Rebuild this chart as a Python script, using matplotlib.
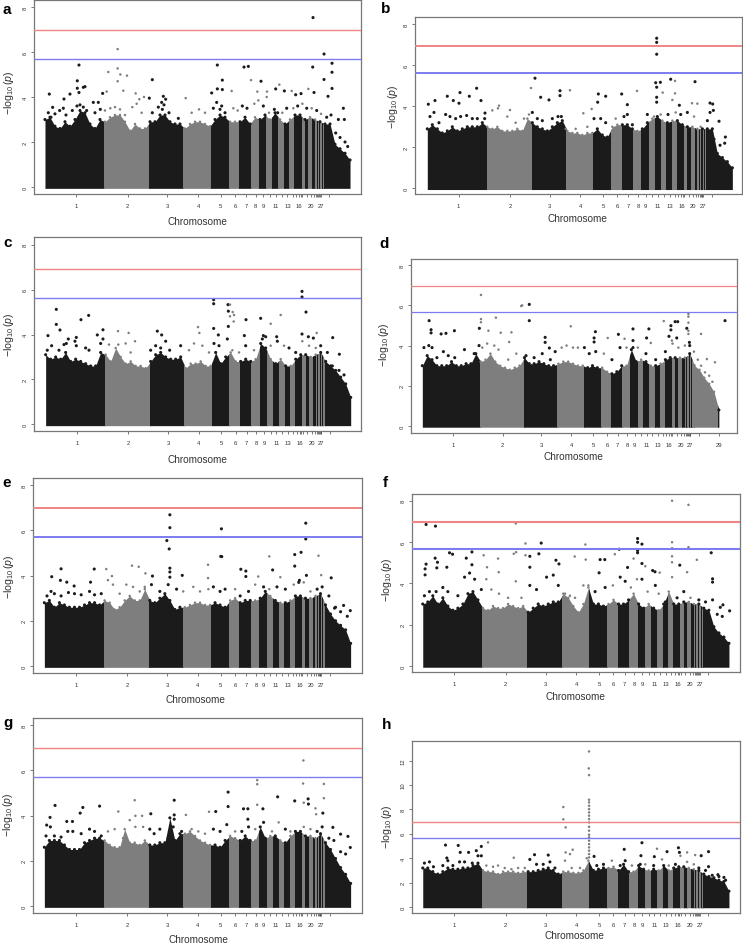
import numpy as np
import matplotlib
matplotlib.use('Agg')
import matplotlib.pyplot as plt
from matplotlib.patches import Rectangle

plt.rcParams['font.family'] = ['Liberation Sans', 'DejaVu Sans']
plt.rcParams['mathtext.fontset'] = 'custom'
plt.rcParams['mathtext.rm'] = 'Liberation Sans'
plt.rcParams['mathtext.it'] = 'Liberation Sans:italic'

# chromosome lengths along the x axis
chr_len = [178, 135, 102, 83, 53, 32, 34, 25, 22, 18, 18, 17, 16, 15, 22, 10, 10, 12, 8, 5,
           3, 4, 4, 4, 3, 4, 78]
chr_len_d = chr_len[:-1] + [1, 74, 9]

tick_pos = [94, 248, 367, 459, 527, 570, 603, 632, 655, 675, 692, 710, 727, 743, 753, 762,
            767, 771, 785, 798, 807, 813, 817, 820, 823, 825, 827, 853]
tick_lab = ['1', '2', '3', '4', '5', '6', '7', '8', '9', '', '11', '', '13', '', '', '16',
            '', '', '', '20', '', '', '', '', '', '', '27', '']

step = 15
grid = np.arange(62) * step

# height of the solid mass, read every 15 units
a_top = [3.0, 3.1, 2.7, 2.6, 2.9, 2.7, 3.0, 3.4, 3.3, 2.8, 2.6, 3.0,
         2.9, 3.1, 3.2, 3.2, 2.9, 2.5, 2.8, 2.6, 2.6,
         2.9, 2.9, 3.2, 3.2, 2.9, 2.8, 2.8,
         2.6, 2.8, 2.9, 2.9, 2.8, 2.7,
         3.0, 3.2, 3.1, 2.9, 2.9, 2.9, 3.1, 2.8, 3.1, 3.0, 3.2, 3.0, 3.3, 3.0, 2.8, 3.0, 3.2, 3.2,
         3.0, 3.1, 3.0, 2.9, 2.8, 2.8, 1.9, 1.7, 1.5, 1.2]
b_top = [2.9, 3.1, 2.9, 2.7, 2.8, 3.0, 2.8, 2.9, 3.0, 3.0, 3.0, 3.2,
         3.0, 2.9, 3.0, 2.8, 2.8, 2.8, 2.9, 2.8, 3.4,
         3.2, 3.0, 2.9, 2.8, 3.0, 3.2, 3.3,
         2.8, 2.7, 2.7, 2.6, 2.7, 2.7,
         2.9, 2.6, 2.5, 3.0, 3.1, 3.1, 3.1, 2.9, 2.8, 2.9, 3.2, 3.4, 3.5, 3.3, 3.2, 3.3, 3.3, 3.1,
         3.0, 3.0, 2.9, 2.9, 2.9, 2.9, 1.7, 1.5, 1.3, 1.0]
c_top = [3.1, 2.9, 3.0, 2.9, 3.2, 2.8, 2.9, 2.8, 2.7, 2.6, 2.6, 3.2,
         3.1, 2.8, 3.4, 3.0, 2.7, 2.8, 2.6, 2.6, 2.5,
         2.8, 3.1, 3.2, 3.0, 2.9, 2.9, 3.0,
         2.5, 2.7, 2.7, 2.8, 2.6, 2.6,
         3.2, 2.7, 3.0, 3.2, 2.8, 2.8, 2.9, 2.8, 2.9, 3.6, 3.4, 2.9, 2.7, 2.9, 2.6, 2.6, 2.9, 3.1,
         3.1, 3.0, 3.1, 3.2, 2.8, 2.6, 2.4, 2.1, 1.8, 1.2]
d_top = [3.0, 3.5, 3.3, 3.0, 3.0, 3.0, 3.2, 3.0, 3.0, 3.1, 3.1, 3.6,
         3.2, 3.3, 3.6, 3.2, 3.0, 2.9, 2.8, 2.9, 3.0,
         3.4, 3.1, 3.1, 3.2, 3.1, 3.0, 3.0,
         3.1, 3.2, 3.2, 3.1, 3.0, 3.0,
         2.9, 3.0, 2.9, 2.9, 2.7, 2.6, 2.7, 3.0, 3.0, 3.8, 3.2, 3.3, 3.2, 3.0, 3.0, 3.1, 3.3, 3.4,
         3.4, 3.4, 3.4, 3.6, 3.0, 2.8, 2.4, 2.1, 1.7, 0.8]
e_top = [2.8, 2.9, 2.6, 2.8, 2.7, 2.6, 2.6, 2.6, 2.7, 2.8, 2.8, 2.7,
         2.9, 2.8, 2.5, 2.6, 2.9, 3.1, 2.9, 2.9, 3.4,
         2.9, 2.8, 3.0, 3.2, 2.9, 2.5, 2.6,
         2.6, 2.7, 2.8, 2.8, 2.7, 2.7,
         2.8, 2.7, 2.6, 2.9, 3.0, 2.8, 2.9, 2.9, 2.9, 3.0, 3.3, 3.1, 2.9, 2.8, 2.8, 2.9, 3.1, 3.1,
         3.0, 3.0, 3.1, 3.2, 2.7, 2.3, 2.0, 1.8, 1.6, 1.0]
f_top = [3.0, 3.1, 3.4, 3.0, 3.3, 2.9, 2.7, 2.8, 3.0, 3.5, 3.6, 3.2,
         2.8, 2.7, 2.9, 2.8, 2.8, 3.0, 2.9, 2.8, 2.9,
         2.6, 2.8, 3.0, 2.9, 3.0, 3.1, 3.1,
         3.5, 3.3, 2.9, 2.6, 3.0, 3.8,
         3.0, 3.0, 2.9, 3.0, 3.2, 3.0, 3.0, 3.2, 3.5, 3.0, 2.8, 3.0, 2.8, 2.7, 3.0, 3.6, 3.0, 3.0,
         3.1, 3.1, 3.0, 3.0, 2.8, 2.7, 1.9, 1.6, 1.4, 1.1]
g_top = [2.6, 2.9, 2.9, 2.9, 2.7, 2.5, 2.5, 2.5, 2.8, 2.9, 3.0, 3.0,
         2.9, 2.7, 2.6, 2.6, 3.4, 2.8, 2.8, 2.7, 2.9,
         2.7, 2.7, 2.8, 2.8, 3.9, 2.9, 3.2,
         3.2, 3.3, 3.1, 2.9, 2.8, 2.7,
         2.7, 2.6, 2.9, 3.1, 3.0, 2.9, 3.1, 2.9, 2.9, 3.5, 3.0, 3.1, 3.1, 2.9, 2.8, 3.1, 3.3, 3.3,
         3.1, 3.1, 3.0, 3.2, 2.8, 2.5, 2.1, 1.7, 1.4, 1.0]
h_top = [3.2, 3.2, 2.9, 2.7, 2.9, 3.2, 3.1, 3.1, 3.2, 3.2, 3.4, 3.6,
         3.0, 2.9, 2.9, 2.7, 2.9, 2.9, 2.9, 2.8, 2.9,
         2.9, 2.9, 3.0, 3.1, 3.2, 3.0, 2.7,
         2.9, 2.9, 2.8, 2.8, 3.0, 3.8,
         3.0, 3.1, 3.2, 3.2, 3.3, 3.0, 3.5, 2.9, 2.9, 3.4, 3.1, 3.0, 3.1, 3.0, 3.4, 3.0, 3.2, 3.3,
         3.3, 3.2, 3.1, 3.0, 2.7, 2.5, 2.4, 2.2, 2.1, 1.3]

# single SNPs standing clear of the mass
a_pts = [(13, 4.13), (23, 3.54), (57, 3.91), (75, 4.13), (97, 4.72), (102, 5.42), (97, 4.39), (102, 4.2),
         (115, 4.43), (120, 4.46), (145, 3.76), (160, 3.76), (173, 4.16), (190, 5.11), (218, 6.13), (218, 5.27),
         (226, 5.0), (246, 4.95), (218, 4.7), (235, 4.28), (185, 4.24), (272, 4.16), (283, 3.9), (297, 4.0),
         (313, 3.95), (322, 4.77), (355, 4.03), (350, 3.76), (422, 3.95), (357, 3.65), (500, 4.18), (517, 5.42),
         (532, 4.75), (517, 4.36), (532, 4.33), (560, 4.27), (597, 5.33), (610, 5.36), (618, 4.75), (648, 4.7),
         (666, 4.24), (637, 4.24), (665, 4.0), (692, 4.36), (703, 4.55), (718, 4.27), (740, 4.27), (752, 4.1),
         (768, 4.15), (790, 4.36), (807, 4.2), (803, 5.33), (804, 7.53), (837, 5.91), (861, 5.5), (861, 5.1),
         (837, 4.78), (861, 4.38), (849, 4.03), (895, 3.5), (898, 3.0), (880, 3.0), (515, 3.76), (530, 3.6)]
b_pts = [(3, 4.1), (23, 4.28), (60, 4.49), (78, 4.28), (98, 4.67), (126, 4.49), (148, 4.88), (161, 4.28),
         (95, 4.15), (173, 3.67), (215, 4.03), (248, 3.82), (311, 4.89), (323, 5.37), (340, 4.44), (365, 4.31),
         (398, 4.76), (398, 4.52), (428, 4.78), (468, 3.66), (493, 3.87), (513, 4.6), (535, 4.49), (511, 4.2),
         (583, 4.6), (600, 4.08), (629, 4.75), (688, 7.32), (688, 7.12), (688, 6.54), (685, 5.15), (699, 5.17),
         (688, 4.93), (706, 4.67), (688, 4.44), (688, 4.2), (730, 5.32), (743, 5.24), (743, 4.63), (735, 4.31),
         (803, 5.2), (756, 4.05), (794, 4.15), (810, 4.13), (848, 4.16), (856, 4.11), (848, 3.7), (875, 3.27),
         (894, 2.5), (858, 3.8)]
c_pts = [(7, 3.95), (32, 5.12), (32, 4.45), (43, 4.2), (68, 3.8), (92, 3.87), (106, 4.66), (129, 4.85),
         (155, 3.98), (172, 4.21), (217, 4.15), (249, 4.07), (335, 4.15), (348, 3.98), (457, 4.33), (461, 4.07),
         (504, 5.55), (504, 5.37), (504, 4.27), (547, 5.33), (553, 5.33), (548, 5.04), (553, 4.81), (561, 5.0),
         (565, 4.87), (564, 4.58), (548, 4.36), (601, 4.66), (645, 4.72), (675, 4.48), (705, 4.87), (769, 5.92),
         (769, 5.67), (781, 5.0), (769, 4.02), (803, 3.84), (813, 4.07), (861, 3.86), (881, 3.12), (596, 3.95),
         (518, 3.98), (653, 3.95), (693, 3.9), (788, 3.9)]
d_pts = [(21, 5.24), (27, 4.79), (27, 4.63), (58, 4.58), (73, 4.61), (99, 4.74), (181, 6.52), (181, 5.32),
         (181, 5.16), (176, 4.86), (227, 5.39), (204, 4.74), (242, 4.64), (275, 4.66), (305, 5.97), (308, 6.0),
         (330, 6.05), (330, 5.24), (268, 4.18), (379, 4.41), (379, 4.16), (392, 3.88), (458, 4.96), (534, 4.69),
         (530, 4.38), (530, 4.18), (572, 4.38), (605, 4.56), (624, 4.34), (650, 4.83), (650, 4.25), (699, 4.83),
         (692, 4.38), (705, 4.13), (745, 5.22), (767, 4.99), (767, 4.78), (780, 5.19), (788, 5.19), (821, 5.57),
         (821, 5.44), (821, 5.14), (821, 4.74), (821, 4.58), (816, 4.86), (860, 4.58), (934, 5.24), (903, 3.17),
         (878, 3.33), (872, 2.67), (761, 4.46), (770, 4.25), (785, 4.38), (824, 4.16)]
e_pts = [(22, 3.95), (50, 4.3), (48, 3.79), (67, 3.71), (89, 3.54), (149, 4.29), (138, 3.71), (185, 4.29),
         (202, 3.98), (262, 4.44), (282, 4.39), (302, 4.1), (323, 3.98), (375, 6.69), (375, 6.12), (366, 5.55),
         (373, 5.18), (375, 4.33), (375, 4.16), (375, 3.93), (412, 4.01), (489, 4.48), (489, 3.89), (529, 6.07),
         (527, 4.85), (530, 4.84), (587, 4.28), (602, 4.2), (602, 3.96), (639, 3.96), (672, 4.85), (682, 4.25),
         (705, 3.93), (748, 4.93), (748, 4.42), (767, 5.03), (781, 6.32), (781, 5.62), (819, 4.88), (827, 4.02),
         (857, 3.9), (783, 4.01), (762, 3.79), (894, 2.68), (914, 2.45), (867, 2.56)]
f_pts = [(10, 6.85), (38, 6.77), (37, 5.22), (44, 5.02), (42, 4.75), (7, 4.7), (7, 4.41), (10, 4.93),
         (72, 4.78), (80, 5.48), (89, 5.41), (130, 5.22), (147, 5.52), (147, 4.9), (182, 5.36), (225, 5.2),
         (192, 4.78), (227, 4.54), (278, 6.9), (307, 5.93), (279, 5.51), (272, 5.43), (307, 5.36), (320, 5.31),
         (320, 4.78), (347, 5.43), (354, 5.95), (398, 5.12), (407, 4.94), (454, 5.3), (486, 5.88), (487, 5.15),
         (530, 5.15), (544, 5.15), (527, 4.51), (587, 5.65), (574, 5.41), (612, 4.77), (630, 5.2), (642, 6.17),
         (642, 5.99), (642, 5.59), (642, 5.48), (655, 5.9), (655, 4.96), (665, 4.83), (687, 4.62), (694, 4.56),
         (708, 4.52), (745, 8.0), (745, 5.99), (745, 5.7), (745, 5.31), (745, 5.02), (768, 4.88), (794, 7.8),
         (794, 5.75), (790, 4.54), (819, 5.14), (862, 5.48), (866, 4.22), (866, 4.06), (897, 2.96), (917, 2.67),
         (889, 2.84)]
g_pts = [(32, 4.45), (17, 3.92), (107, 4.11), (115, 4.36), (165, 4.42), (67, 3.74), (84, 3.74), (7, 3.58),
         (221, 4.18), (270, 4.68), (292, 3.99), (318, 4.08), (272, 3.99), (388, 4.68), (388, 4.03), (388, 3.84),
         (423, 4.03), (492, 4.17), (512, 4.18), (549, 5.04), (549, 4.4), (595, 4.3), (608, 4.3), (608, 3.84),
         (636, 5.57), (636, 5.39), (636, 4.48), (653, 4.3), (697, 4.83), (748, 4.65), (774, 6.44), (773, 5.42),
         (775, 4.57), (788, 4.74), (789, 4.51), (810, 4.32), (812, 4.06), (835, 5.4), (835, 4.77), (832, 4.11),
         (862, 3.48), (907, 3.08), (885, 3.18), (914, 2.59)]
h_pts = [(68, 5.08), (106, 5.05), (112, 4.48), (137, 4.48), (175, 4.97), (160, 4.62), (195, 5.3), (72, 4.02),
         (272, 4.04), (334, 4.29), (375, 4.26), (420, 8.2), (420, 7.19), (427, 6.53), (448, 4.7), (427, 4.48),
         (440, 4.34), (497, 12.76), (496, 11.37), (497, 10.82), (497, 8.8), (497, 8.58), (497, 8.3), (497, 8.03),
         (497, 7.76), (497, 7.49), (497, 7.21), (497, 6.94), (497, 6.58), (497, 6.26), (497, 5.93), (497, 5.71),
         (497, 5.44), (497, 5.16), (497, 4.89), (497, 4.62), (497, 4.34), (497, 4.07), (512, 4.15), (602, 4.73),
         (655, 5.27), (652, 4.21), (700, 4.78), (692, 4.13), (730, 4.54), (764, 4.86), (767, 4.48), (790, 4.48),
         (814, 4.26), (832, 4.21), (854, 4.54), (854, 3.31), (882, 2.65), (900, 2.43)]

# the looser band of SNPs just above the mass
a_more = [(10, 3.3), (18, 3.1), (30, 3.25), (44, 3.4), (55, 3.5), (63, 3.2), (82, 3.4), (96, 3.6), (105, 3.65),
          (115, 3.55), (125, 3.4), (150, 3.3), (166, 3.45), (180, 3.4), (196, 3.5), (210, 3.55), (225, 3.45),
          (240, 3.2), (262, 3.55), (275, 3.7), (290, 3.3), (322, 3.3), (340, 3.55), (352, 3.45), (362, 3.9),
          (372, 3.3), (400, 3.05), (440, 3.3), (462, 3.45), (480, 3.3), (505, 3.5), (525, 3.45), (540, 3.3),
          (565, 3.5), (578, 3.4), (592, 3.6), (606, 3.5), (628, 3.7), (640, 3.85), (655, 3.6), (672, 3.3),
          (688, 3.45), (698, 3.3), (712, 3.3), (725, 3.5), (745, 3.5), (758, 3.6), (772, 3.7), (785, 3.5),
          (800, 3.5), (815, 3.4), (828, 3.25), (845, 3.1), (858, 3.2), (872, 2.4), (885, 2.2), (900, 2.0), (908, 1.8)]
b_more = [(8, 3.5), (20, 3.7), (35, 3.2), (55, 3.6), (68, 3.5), (85, 3.4), (100, 3.5), (118, 3.55), (135, 3.4),
          (150, 3.4), (172, 3.4), (195, 3.8), (212, 3.9), (240, 3.5), (265, 3.2), (290, 3.4), (305, 3.6), (315, 3.7),
          (330, 3.4), (345, 3.3), (375, 3.4), (392, 3.5), (402, 3.5), (415, 2.9), (445, 2.9), (480, 3.0), (500, 3.4),
          (520, 3.4), (535, 3.2), (565, 3.4), (590, 3.5), (600, 3.6), (615, 3.1), (660, 3.6), (680, 3.5), (700, 3.6),
          (722, 3.6), (745, 3.7), (760, 3.6), (780, 3.7), (800, 3.5), (820, 3.0), (840, 3.3), (860, 2.4), (878, 2.1),
          (892, 2.2)]
c_more = [(5, 3.3), (18, 3.5), (40, 3.3), (55, 3.55), (62, 3.6), (88, 3.7), (92, 3.5), (120, 3.4), (130, 3.3),
          (165, 3.6), (172, 3.8), (190, 3.55), (218, 3.55), (240, 3.6), (255, 3.2), (268, 3.7), (315, 3.3), (330, 3.5),
          (345, 3.4), (360, 3.7), (372, 3.3), (405, 3.5), (430, 3.3), (445, 3.6), (470, 3.5), (490, 3.2), (505, 3.6),
          (520, 3.5), (545, 3.8), (560, 3.3), (580, 3.2), (600, 3.5), (625, 3.3), (650, 3.8), (660, 3.9), (675, 3.5),
          (695, 3.7), (715, 3.5), (730, 3.4), (750, 3.2), (770, 3.7), (790, 3.5), (810, 3.4), (825, 3.5), (845, 3.2),
          (860, 2.6), (880, 2.4), (895, 2.2)]
d_more = [(5, 3.9), (20, 4.0), (30, 3.9), (45, 3.4), (65, 3.7), (80, 3.5), (100, 3.4), (130, 3.8), (160, 3.6),
          (175, 4.0), (185, 3.9), (200, 4.1), (222, 4.0), (235, 3.8), (265, 3.3), (290, 3.6), (320, 3.5), (345, 3.4),
          (370, 3.6), (395, 3.3), (410, 3.7), (430, 3.9), (445, 4.0), (465, 3.9), (480, 3.9), (500, 3.9), (515, 3.6),
          (535, 3.7), (560, 3.6), (585, 3.3), (610, 3.9), (630, 3.9), (650, 3.9), (665, 3.9), (690, 3.6), (720, 3.3),
          (750, 3.7), (772, 4.1), (790, 3.9), (810, 4.0), (825, 4.0), (838, 3.7), (850, 3.3), (860, 3.0), (885, 2.5),
          (895, 2.2)]
e_more = [(8, 3.1), (20, 3.3), (30, 3.2), (50, 3.1), (72, 3.25), (90, 3.2), (110, 3.15), (135, 3.3), (150, 3.15),
          (170, 3.2), (190, 3.8), (205, 3.6), (225, 3.2), (245, 3.6), (265, 3.5), (285, 3.3), (300, 3.5), (320, 3.6),
          (345, 3.3), (370, 3.6), (395, 3.4), (415, 3.3), (445, 3.5), (465, 3.3), (490, 3.4), (505, 3.5), (525, 3.3),
          (540, 3.4), (570, 3.4), (585, 3.1), (610, 3.3), (630, 3.6), (655, 3.5), (672, 3.4), (695, 3.5), (720, 3.4),
          (745, 3.6), (760, 3.7), (775, 3.7), (795, 3.3), (815, 3.4), (830, 3.5), (850, 3.1), (870, 2.6), (885, 2.4),
          (905, 2.2)]
f_more = [(5, 3.4), (20, 3.6), (40, 3.6), (60, 3.8), (75, 3.6), (105, 3.4), (125, 4.3), (140, 4.5), (155, 4.2),
          (175, 3.7), (190, 4.2), (205, 3.7), (228, 3.5), (255, 3.3), (278, 4.1), (295, 3.3), (320, 3.9), (340, 3.7),
          (370, 4.3), (390, 4.4), (405, 3.9), (425, 3.5), (440, 3.4), (455, 3.3), (480, 3.9), (495, 3.9), (515, 3.6),
          (545, 3.8), (568, 3.9), (590, 4.3), (605, 4.1), (622, 3.8), (640, 4.2), (655, 4.2), (672, 3.6), (695, 3.9),
          (705, 3.5), (725, 3.1), (745, 4.3), (760, 3.3), (780, 3.6), (800, 3.3), (825, 3.2), (845, 3.1), (866, 3.2),
          (880, 2.5), (895, 2.4)]
g_more = [(5, 3.1), (18, 3.5), (30, 3.1), (50, 3.05), (70, 3.3), (85, 3.3), (110, 3.2), (135, 3.4), (150, 3.3),
          (170, 3.1), (190, 3.3), (210, 3.4), (235, 3.0), (255, 3.8), (272, 3.5), (295, 3.5), (315, 3.4), (328, 3.2),
          (345, 3.4), (370, 3.0), (385, 3.5), (410, 3.3), (440, 3.4), (460, 3.3), (480, 3.2), (505, 3.4), (525, 3.3),
          (545, 3.6), (570, 3.3), (590, 3.3), (610, 3.5), (630, 3.4), (655, 3.7), (680, 3.3), (700, 3.7), (720, 3.4),
          (735, 3.3), (755, 3.2), (775, 3.5), (795, 3.4), (815, 3.3), (830, 3.5), (850, 3.0), (865, 2.9), (885, 2.4),
          (900, 2.3)]
h_more = [(5, 3.6), (20, 3.7), (32, 3.3), (60, 3.4), (75, 3.8), (90, 3.4), (110, 3.7), (125, 3.7), (148, 3.6),
          (165, 4.2), (175, 4.2), (190, 3.4), (210, 3.3), (225, 3.4), (245, 3.2), (265, 3.1), (285, 3.2), (305, 3.2),
          (320, 3.9), (340, 3.5), (360, 3.5), (380, 3.7), (395, 3.2), (425, 3.8), (445, 3.2), (470, 3.2), (490, 4.0),
          (520, 3.4), (540, 3.5), (565, 3.8), (590, 3.4), (605, 3.8), (625, 3.4), (650, 3.5), (665, 3.5), (690, 3.4),
          (715, 3.9), (735, 3.4), (755, 3.5), (770, 4.2), (790, 3.7), (810, 3.5), (825, 3.2), (845, 3.0), (865, 2.6),
          (885, 2.5), (905, 2.2)]

# threshold lines: suggestive (blue) and genome-wide (red)
red_y = [6.98, 6.94, 6.92, 6.98, 6.99, 6.98, 6.99, 6.94]
blue_y = [5.69, 5.62, 5.61, 5.69, 5.69, 5.68, 5.69, 5.63]
line_w = [1.0, 1.4, 1.0, 0.9, 1.4, 1.5, 1.0, 1.0]

names = ['a', 'b', 'c', 'd', 'e', 'f', 'g', 'h']
tops = [a_top, b_top, c_top, d_top, e_top, f_top, g_top, h_top]
points = [a_pts + a_more, b_pts + b_more, c_pts + c_more, d_pts + d_more,
          e_pts + e_more, f_pts + f_more, g_pts + g_more, h_pts + h_more]

# box left, right, top, bottom, then pixel of y=0 and pixels per y unit
boxes = [(34.3, 360.7, 1.3, 195.3, 188.0, 22.5),
         (415.3, 741.7, 18.3, 195.3, 189.3, 20.5),
         (34.3, 360.7, 238.3, 432.3, 425.3, 22.45),
         (411.3, 736.7, 259.7, 433.7, 427.0, 20.1),
         (33.3, 362.0, 478.7, 674.0, 667.0, 22.6),
         (411.7, 740.0, 495.0, 673.3, 667.0, 20.66),
         (33.3, 362.0, 719.0, 914.3, 907.0, 22.6),
         (411.7, 740.0, 742.3, 914.3, 908.0, 12.19)]
x_lims = [(-32, 947), (-36, 943), (-34, 945), (-34, 970), (-33, 949), (-33, 948), (-33, 949), (-33, 948)]
# panel letter, x label and y label centres in pixels
letter_xy = [(7, 10), (386, 9), (8, 243), (384, 244), (7, 483), (385, 483), (8, 723), (387, 725)]
xlabel_xy = [(197, 222), (577, 219), (197, 459.7), (573, 456.7), (195, 700), (575, 697), (198, 940), (574, 935.7)]
ylabel_xy = [(9, 93), (393, 107), (9, 335), (384, 345), (8.6, 577), (387, 580), (8, 815), (387, 827)]

W, H = 743, 945
BLACK = '#1b1b1b'
GRAY = '#7e7e7e'
EDGE = '#777777'
TEXT = '#333333'

fig = plt.figure(figsize=(W / 100, H / 100), dpi=100)


def band_style(xs, edges):
    # chromosomes alternate black and grey
    idx = np.clip(np.searchsorted(edges, xs, side='right') - 1, 0, len(edges) - 2)
    cols = [BLACK if k % 2 == 0 else GRAY for k in idx]
    sizes = [5.0 if k % 2 == 0 else 3.2 for k in idx]
    return cols, sizes


def draw_panel(i):
    left, right, top, bottom, y0, unit = boxes[i]
    ax = fig.add_axes([left / W, 1 - bottom / H, (right - left) / W, (bottom - top) / H])
    ax.set_xlim(*x_lims[i])
    ax.set_ylim((y0 - bottom) / unit, (y0 - top) / unit)

    lens = chr_len_d if names[i] == 'd' else chr_len
    edges = np.concatenate([[0], np.cumsum(lens)])

    for k in range(len(lens)):
        col = BLACK if k % 2 == 0 else GRAY
        poly = ax.fill_between(grid, -0.06, tops[i], color=col, lw=0, zorder=2)
        poly.set_clip_path(Rectangle((edges[k], -1), lens[k], 30, transform=ax.transData))

    pts = np.array(points[i], dtype=float)
    cols, sizes = band_style(pts[:, 0], edges)
    ax.scatter(pts[:, 0], pts[:, 1], s=sizes, c=cols, linewidths=0, zorder=3)

    # rounded crest on the mass
    g_cols, g_sizes = band_style(grid, edges)
    ax.scatter(grid, tops[i], s=g_sizes, c=g_cols, linewidths=0, zorder=3)

    ax.axhline(red_y[i], color='#f08484', lw=line_w[i], zorder=4)
    ax.axhline(blue_y[i], color='#7c7cf0', lw=line_w[i], zorder=4)

    ticks = tick_pos
    labs = tick_lab
    if names[i] == 'd':
        ticks = tick_pos + [914]
        labs = tick_lab + ['29']
    ax.set_xticks(ticks)
    ax.set_xticklabels(labs, fontsize=4.2, color=TEXT)
    ax.tick_params(axis='x', length=2.5, width=0.5, color='#444444', pad=4)

    yticks = [0, 2, 4, 6, 8, 10, 12] if names[i] == 'h' else [0, 2, 4, 6, 8]
    ax.set_yticks(yticks)
    ax.set_yticklabels([str(v) for v in yticks], fontsize=4.2, color=TEXT, rotation=90, va='center')
    ax.tick_params(axis='y', length=2.5, width=0.5, color='#444444', pad=2)

    for s in ax.spines.values():
        s.set_color(EDGE)
        s.set_linewidth(0.9)

    fig.text(letter_xy[i][0] / W, 1 - letter_xy[i][1] / H, names[i], fontsize=11, fontweight='bold',
             ha='center', va='center', color='black')
    fig.text(xlabel_xy[i][0] / W, 1 - xlabel_xy[i][1] / H, 'Chromosome', fontsize=7.2,
             ha='center', va='center', color=TEXT)
    fig.text(ylabel_xy[i][0] / W, 1 - ylabel_xy[i][1] / H, r'$-\log_{10}(\mathit{p})$', fontsize=7.6,
             rotation=90, ha='center', va='center', color=TEXT)


for i in range(8):
    draw_panel(i)

fig.savefig('out.png', dpi=100)
